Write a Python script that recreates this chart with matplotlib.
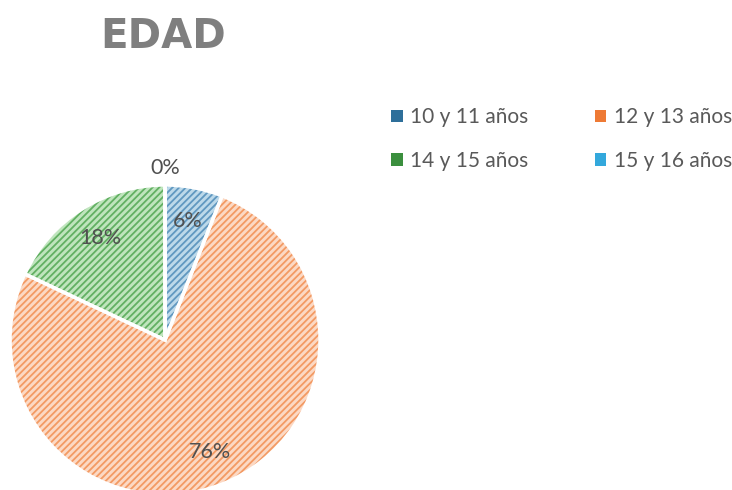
import matplotlib.pyplot as plt
from matplotlib.patches import Patch

plt.rcParams['font.family'] = ['Lato', 'DejaVu Sans']
plt.rcParams['hatch.linewidth'] = 1.3

categorias = ['10 y 11 años', '12 y 13 años', '14 y 15 años', '15 y 16 años']
valores = [3, 38, 9, 0]
claros = ['#bcd9ea', '#fcd9c4', '#bfe5bd', '#b3e0f4']
oscuros = ['#2e6f9a', '#ee7a35', '#3b8f3e', '#33a8dc']
hatch_col = ['#6098c0', '#f39a63', '#62b062', '#5cbbe6']

fig = plt.figure(figsize=(7.32, 4.9), dpi=100)
ax = fig.add_axes([0.0137, -0.0102, 0.4235, 0.6327])

wedges, texts, autotexts = ax.pie(
    valores, colors=claros, startangle=90, counterclock=False,
    autopct='%1.0f%%', pctdistance=0.78,
    wedgeprops=dict(hatch='/////', linewidth=0),
    textprops=dict(color='#505050', fontsize=15.5))
for w, c in zip(wedges, hatch_col):
    w.set_edgecolor(c)
    w.set_linewidth(0)

# contorno blanco entre sectores
ax.pie(valores, startangle=90, counterclock=False,
       wedgeprops=dict(facecolor='none', edgecolor='white', linewidth=2.5))

# la etiqueta del 0% va fuera del círculo
autotexts[3].set_position((0, 1.11))
ax.set_aspect('equal')
ax.set_xlim(-1, 1)
ax.set_ylim(-1, 1)

fig.text(0.223, 0.925, 'EDAD', fontsize=29, fontweight='bold', color='#7f7f7f',
         ha='center', va='center', family='DejaVu Sans')

orden = [0, 2, 1, 3]
handles = [Patch(facecolor=oscuros[i], edgecolor='none') for i in orden]
fig.legend(handles, [categorias[i] for i in orden], loc='center left',
           bbox_to_anchor=(0.509, 0.716),
           ncol=2, frameon=False, fontsize=15, handlelength=0.55, handleheight=0.55,
           handletextpad=0.35, columnspacing=3.2, labelspacing=1.15,
           labelcolor='#595959')

fig.savefig('out.png', dpi=100)
